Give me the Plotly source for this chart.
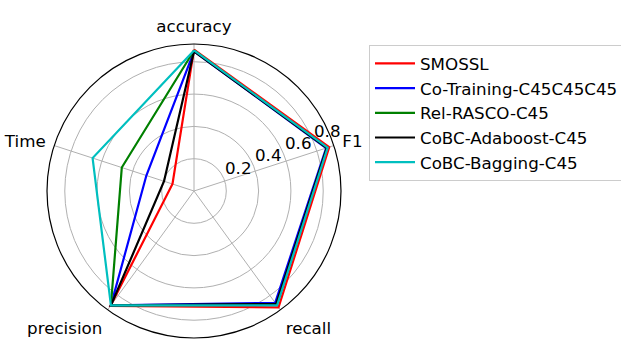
import plotly.graph_objects as go
import math

categories = ["accuracy", "F1", "recall", "precision", "Time"]
series_names = ["SMOSSL", "Co-Training-C45C45C45", "Rel-RASCO-C45", "CoBC-Adaboost-C45", "CoBC-Bagging-C45"]
smossl = [0.875, 0.88, 0.89, 0.88, 0.14]
cotraining = [0.865, 0.86, 0.855, 0.875, 0.31]
relrasco = [0.87, 0.865, 0.87, 0.875, 0.47]
cobc_ada = [0.865, 0.865, 0.865, 0.875, 0.195]
cobc_bag = [0.87, 0.87, 0.875, 0.875, 0.66]
colors = ["#ff0000", "#0000ff", "#008000", "#000000", "#00bfbf"]
radial_ticks = [0.2, 0.4, 0.6, 0.8]
radial_max = 0.91

all_series = [smossl, cotraining, relrasco, cobc_ada, cobc_bag]

fig = go.Figure()
for name, vals, col in zip(series_names, all_series, colors):
    fig.add_trace(go.Scatterpolar(
        r=vals + vals[:1],
        theta=categories + categories[:1],
        mode="lines",
        name=name,
        line=dict(color=col, width=2.2),
    ))

W, H = 621, 339
cx, cy, R = 194, 191, 147
FS = 16.7

# radial tick labels, placed like matplotlib (left-bottom anchored at the 22.5 deg gridline crossing)
ann = []
lab_ang = math.radians(22.5)
for t in radial_ticks:
    rp = t / radial_max * R
    px = cx + rp * math.cos(lab_ang)
    py = cy - rp * math.sin(lab_ang)
    ann.append(dict(
        x=px / W, y=1 - py / H, xref="paper", yref="paper",
        text=str(t), showarrow=False, xanchor="left", yanchor="bottom",
        font=dict(size=FS), borderpad=0,
    ))

fig.update_layout(
    width=W, height=H,
    margin=dict(l=0, r=0, t=0, b=0, pad=0, autoexpand=False),
    paper_bgcolor="white",
    font=dict(family="DejaVu Sans", size=FS, color="black"),
    polar=dict(
        domain=dict(x=[(cx - R) / W, (cx + R) / W], y=[1 - (cy + R) / H, 1 - (cy - R) / H]),
        bgcolor="white",
        angularaxis=dict(
            rotation=90, direction="clockwise",
            showline=True, linecolor="black", linewidth=1.2,
            gridcolor="#b0b0b0", gridwidth=1,
            ticks="outside", ticklen=5, tickcolor="rgba(0,0,0,0)",
            tickfont=dict(size=FS),
        ),
        radialaxis=dict(
            range=[0, radial_max], tickvals=radial_ticks,
            showticklabels=False,
            angle=22.5,
            showline=False, ticks="",
            gridcolor="#b0b0b0", gridwidth=1,
        ),
    ),
    annotations=ann,
    legend=dict(
        x=369 / W, y=1 - 45 / H, xanchor="left", yanchor="top",
        bordercolor="#cccccc", borderwidth=1, bgcolor="white",
        font=dict(size=FS), itemwidth=40,
    ),
)

fig.write_html(
    "out.html",
    config={"displayModeBar": False},
    post_script="document.body.style.margin='0';document.body.style.overflow='hidden';",
)
